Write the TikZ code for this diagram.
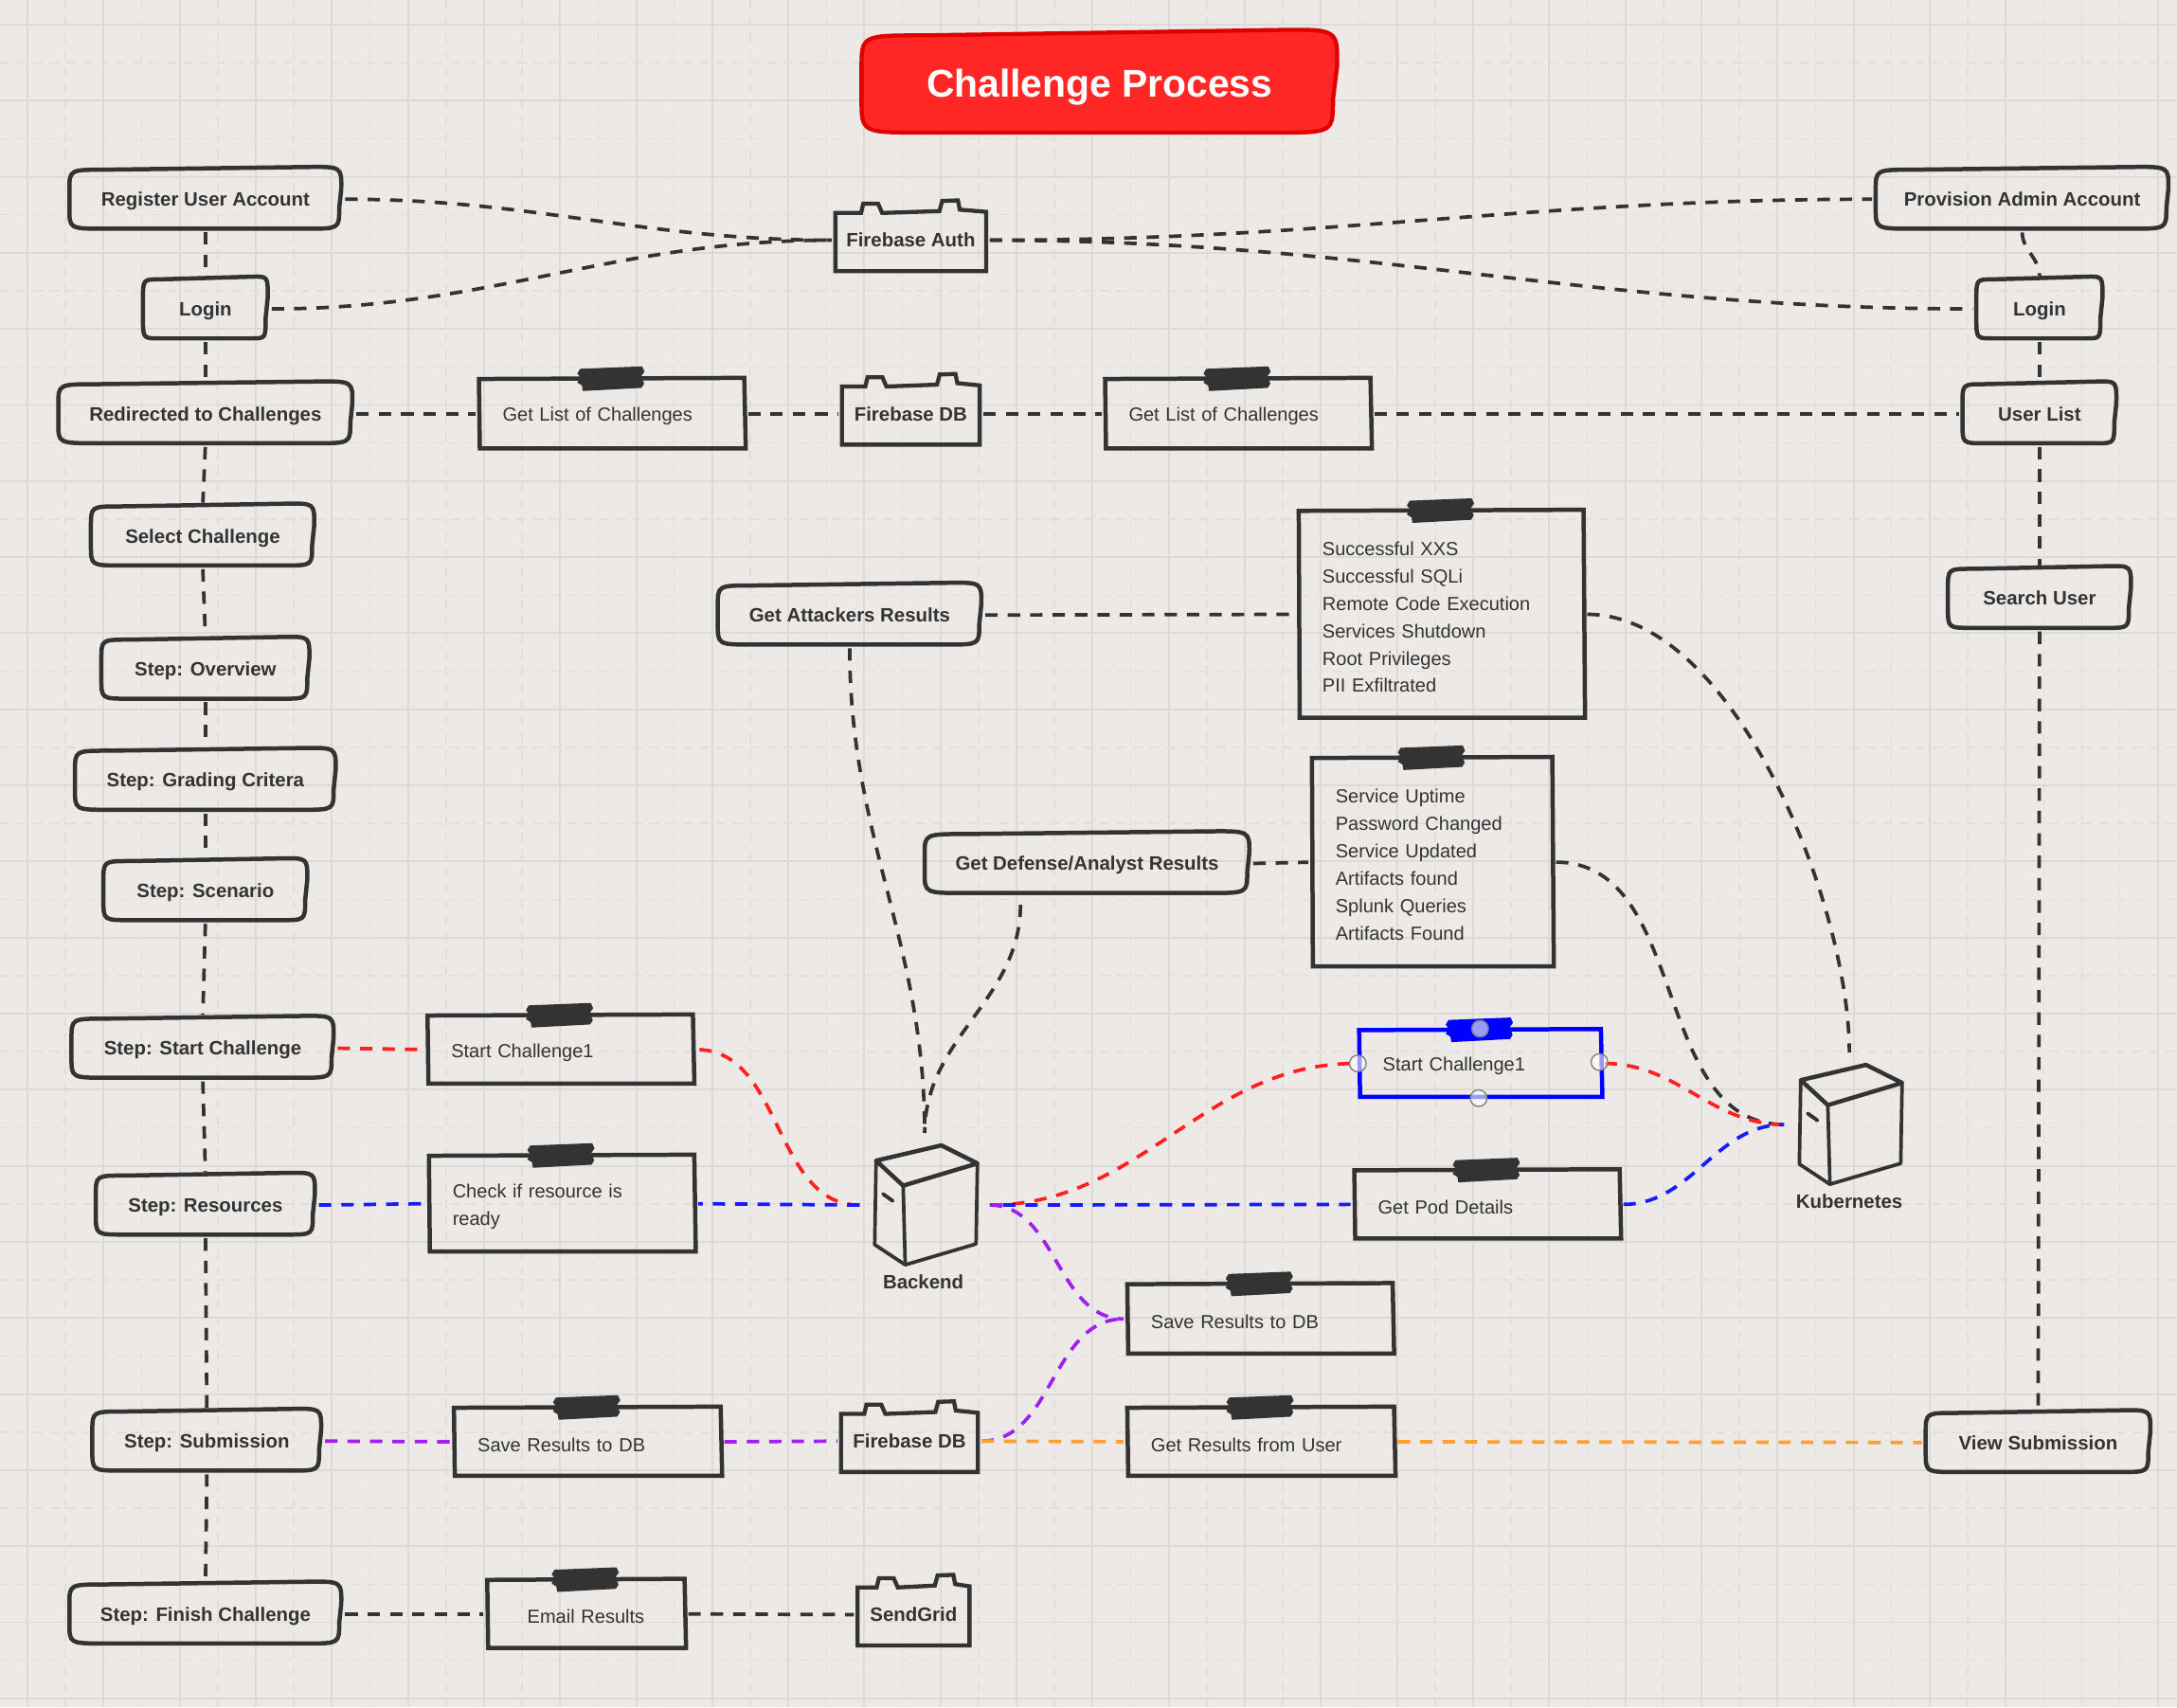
\documentclass[tikz,border=0pt]{standalone}
\usepackage{fontspec}
\setmainfont{Liberation Sans}
\usetikzlibrary{calc}
\definecolor{paper}{HTML}{ECE9E6}
\definecolor{gridline}{HTML}{DCDAD7}
\definecolor{ink}{HTML}{333333}
\definecolor{titlered}{HTML}{FF2626}
\definecolor{titleedge}{HTML}{E00000}
\definecolor{linkred}{HTML}{FF2020}
\definecolor{linkblue}{HTML}{1A1AFF}
\definecolor{boxblue}{HTML}{0000FF}
\definecolor{linkpurple}{HTML}{A020F0}
\definecolor{linkorange}{HTML}{FFA030}
\newcommand{\routineshape}[4]{%
  \draw[#4] ($(#1.north west)+(0pt,-#2)$)
    .. controls (#1.north west) .. ($(#1.north west)!.13!(#1.north east)$)
    -- ($(#1.north west)!.87!(#1.north east)+(0pt,.85*#3)$)
    .. controls ($(#1.north east)+(0pt,#3)$) .. ($(#1.north east)+(-.1*#3,-#2+.4*#3)$)
    -- ($(#1.south east)+(-.75*#3,#2)$)
    .. controls ($(#1.south east)+(-.75*#3,0pt)$) .. ($(#1.south west)!.87!(#1.south east)$)
    -- ($(#1.south west)!.13!(#1.south east)$)
    .. controls (#1.south west) .. ($(#1.south west)+(0pt,#2)$) -- cycle;}
\newcommand{\noteshape}[2]{%
  \draw[#2, line width=2.3pt, line join=miter] (#1.north west) -- ($(#1.north east)+(0pt,.6pt)$)
    -- ($(#1.south east)+(.8pt,0pt)$) -- ($(#1.south west)+(.5pt,0pt)$) -- cycle;
  \fill[#2, shift={(#1.north)}, x=1pt, y=1pt] (-17,5.5) -- (16.5,6.8) -- (17.8,4) -- (16,1.5) -- (17.6,-2.5)
    -- (16.2,-4.8) -- (-15.5,-6.5) -- (-16,-3.5) -- (-18.5,-2) -- (-17,1) -- (-18.5,3) -- cycle;}
\newcommand{\storeshape}[1]{%
  \draw[ink, line width=2.2pt, line join=miter] ($(#1.south west)+(0pt,-2pt)$) -- (#1.north west)
    -- ($(#1.north west)!.17!(#1.north east)$) -- ++(1.2pt,5pt) -- ++(8pt,0pt) -- ++(2.2pt,-5pt)
    -- ($(#1.north west)!.69!(#1.north east)+(0pt,1pt)$) -- ++(1.5pt,5.5pt) -- ++(8.5pt,.3pt) -- ++(1pt,-5pt)
    -- ($(#1.north east)+(0pt,.6pt)$) -- ($(#1.south east)+(0pt,-2pt)$) -- cycle;}
\newcommand{\servershape}[1]{%
  \begin{scope}[shift={(#1.center)}, ink, line join=round, line cap=round]
    \draw[line width=2.3pt] (-35,-32) -- (12,-43) -- (38,-30) -- (-15.5,-14) -- cycle;
    \draw[line width=1.9pt] (-35,-32) -- (-36,28.5) -- (-14,43) -- (37,28) -- (38,-30);
    \draw[line width=1.9pt] (-15.5,-14) -- (-14,43);
    \draw[line width=2pt] (-30,-8) -- (-23,-3);
  \end{scope}}
\tikzset{
  routine/.style = {font=\fontsize{10.45}{13}\selectfont\bfseries, text=ink, inner sep=0pt, minimum height=31.5pt,
    text height=7.5pt, text depth=0pt,
    append after command={\pgfextra{\routineshape{\tikzlastnode}{11pt}{1.7pt}{ink, line width=2.3pt}}}},
  wide/.style = {minimum width=(#1-2.5)*.75pt},
  tall/.style = {minimum height=(#1-2.5)*.75pt},
  note/.style = {font=\fontsize{10.25}{14.8}\selectfont, text=ink, inner ysep=0pt, inner xsep=12.6pt, align=left,
    execute at begin node={\rule{0pt}{10.5pt}},
    append after command={\pgfextra{\noteshape{\tikzlastnode}{#1}}}},
  note/.default = ink,
  notewide/.style = {text width=.75*(#1-36)*1pt},
  store/.style = {font=\fontsize{10.45}{13}\selectfont\bfseries, text=ink, inner sep=0pt, minimum height=29pt,
    text height=7.5pt, text depth=0pt,
    append after command={\pgfextra{\storeshape{\tikzlastnode}}}},
  server/.style = {inner sep=0pt, minimum width=66pt, minimum height=73.5pt,
    append after command={\pgfextra{\servershape{\tikzlastnode}}}},
  caption/.style = {font=\fontsize{10.45}{13}\selectfont\bfseries, text=ink, inner sep=0pt},
  handle/.style = {circle, draw=gray, line width=.7pt, fill=white, fill opacity=.6, inner sep=0pt, minimum size=9pt},
  link/.style = {draw=#1, line width=1.9pt, dash pattern=on 6.7pt off 5.4pt, shorten <=2pt, shorten >=2pt},
  link/.default = ink
}
\begin{document}
\begin{tikzpicture}[x=.75pt, y=-.75pt]
  \useasboundingbox[fill=paper] (0,0) rectangle (1568,1229.6);

  \foreach \k in {0,...,28} {
    \draw[gridline, line width=1pt] ({19.8+54.8*\k},0) -- ({19.8+54.8*\k},1229.6);
    \draw[gridline!70!paper, line width=.8pt, dash pattern=on 5pt off 4pt] ({47.2+54.8*\k},0) -- ({47.2+54.8*\k},1229.6);
  }
  \foreach \k in {0,...,22} {
    \draw[gridline, line width=1pt] (0,{17.7+54.8*\k}) -- (1568,{17.7+54.8*\k});
    \draw[gridline!70!paper, line width=.8pt, dash pattern=on 5pt off 4pt] (0,{45.1+54.8*\k}) -- (1568,{45.1+54.8*\k});
  }

  \node[wide=345, tall=72, inner sep=0pt, append after command={\pgfextra{\routineshape{\tikzlastnode}{18pt}{3.4pt}{draw=titleedge, fill=titlered, line width=2.2pt}}}] at (792,60.5) (titlebox) {};
  \node[font=\fontsize{20.9}{24}\selectfont\bfseries, text=white, inner sep=0pt] at (792,63) (title) {Challenge Process};

  \node[routine, wide=198] at (148,143.5) (register)  {Register User Account};
  \node[routine, wide=92]  at (148,222.5) (login)     {Login};
  \node[routine, wide=214] at (148,298)   (redirect)  {Redirected to Challenges};
  \node[routine, wide=163] at (146,386)   (select)    {Select Challenge};
  \node[routine, wide=152] at (148,482)   (overview)  {Step: Overview};
  \node[routine, wide=190] at (148,562)   (grading)   {Step: Grading Critera};
  \node[routine, wide=149] at (148,641.5) (scenario)  {Step: Scenario};
  \node[routine, wide=191] at (146,755)   (start)     {Step: Start Challenge};
  \node[routine, wide=160] at (148,868)   (resources) {Step: Resources};
  \node[routine, wide=167] at (149,1038)  (submit)    {Step: Submission};
  \node[routine, wide=198] at (148,1162.5) (finish)   {Step: Finish Challenge};

  \node[routine, wide=213] at (1456.5,143.5) (provision) {Provision Admin Account};
  \node[routine, wide=93]  at (1469,222.5)   (adminlog)  {Login};
  \node[routine, wide=113] at (1469,298)     (userlist)  {User List};
  \node[routine, wide=134] at (1469,431)     (search)    {Search User};
  \node[routine, wide=164] at (1468,1039)    (viewsub)   {View Submission};

  \node[routine, wide=192] at (612,443) (attackres)  {Get Attackers Results};
  \node[routine, wide=236] at (783,622) (defenseres) {Get Defense/Analyst Results};

  \node[store, minimum width=81pt] at (656,173)  (fbauth)   {Firebase Auth};
  \node[store, minimum width=74pt] at (656,298)  (fbdb)     {Firebase DB};
  \node[store, minimum width=73.5pt] at (655,1038) (fbdblow)  {Firebase DB};
  \node[store, minimum width=60pt] at (658,1163) (sendgrid) {SendGrid};

  \node[note, notewide=193, tall=52]  at (440.5,298) (listleft)  {Get List of Challenges};
  \node[note, notewide=193, tall=52]  at (891.5,298) (listright) {Get List of Challenges};
  \node[note, notewide=207, tall=151] at (1038,442.5) (attacklist) {Successful XXS\\Successful SQLi\\Remote Code Execution\\Services Shutdown\\Root Privileges\\PII Exfiltrated};
  \node[note, notewide=175, tall=152] at (1031.5,621) (defenselist) {Service Uptime\\Password Changed\\Service Updated\\Artifacts found\\Splunk Queries\\Artifacts Found};
  \node[note, notewide=193, tall=51]  at (403.5,756) (startnote) {Start Challenge1};
  \node[note, notewide=193, tall=71]  at (404.5,867) (checknote) {Check if resource is\\ready};
  \node[note=boxblue, notewide=176, tall=50] at (1066,766) (startblue) {Start Challenge1};
  \node[note, notewide=193, tall=51]  at (1071,867.5) (podnote)   {Get Pod Details};
  \node[note, notewide=193, tall=52]  at (907.5,950)  (saveup)    {Save Results to DB};
  \node[note, notewide=194, tall=51]  at (423,1038.5) (savelow)   {Save Results to DB};
  \node[note, notewide=194, tall=51]  at (908,1038.5) (getres)    {Get Results from User};
  \node[note, notewide=144, tall=51, align=center] at (422,1162.5) (email) {Email Results};

  \node[server] at (666,868) (backend) {};
  \node[caption] at (665,923) (backendname) {Backend};
  \node[server] at (1332,810) (kube) {};
  \node[caption] at (1332,865) (kubename) {Kubernetes};

  \coordinate (defensefoot) at (735,649);

  \draw[link] (register.south)  edge (login.north);
  \draw[link] (login.south)     edge (redirect.north);
  \draw[link] (redirect.south)  edge (select.north);
  \draw[link] (select.south)    edge (overview.north);
  \draw[link] (overview.south)  edge (grading.north);
  \draw[link] (grading.south)   edge (scenario.north);
  \draw[link] (scenario.south)  edge (start.north);
  \draw[link] (start.south)     edge (resources.north);
  \draw[link] (resources.south) edge (submit.north);
  \draw[link] (submit.south)    edge (finish.north);

  \draw[link] (provision.south) edge [out=-90, in=90] (adminlog.north);
  \draw[link] (adminlog.south)  edge (userlist.north);
  \draw[link] (userlist.south)  edge (search.north);
  \draw[link] (search.south)    edge (viewsub.north);

  \draw[link] (register.east) edge [out=0, in=180] (fbauth.west);
  \draw[link] (login.east)    edge [out=0, in=180] (fbauth.west);
  \draw[link] (fbauth.east)   edge [out=0, in=180] (provision.west);
  \draw[link] (fbauth.east)   edge [out=0, in=180] (adminlog.west);

  \draw[link] (redirect.east)  edge (listleft.west);
  \draw[link] (listleft.east)  edge (fbdb.west);
  \draw[link] (fbdb.east)      edge (listright.west);
  \draw[link] (listright.east) edge (userlist.west);

  \draw[link] (attackres.east)   edge (attacklist.west);
  \draw[link] (attacklist.east)  edge [out=0, in=90, looseness=.75] (kube.north);
  \draw[link] (attackres.south)  edge [out=-90, in=90] (backend.north);
  \draw[link] (defensefoot)      edge [out=-90, in=90] (backend.north);
  \draw[link] (defenseres.east)  edge (defenselist.west);
  \draw[link] (defenselist.east) edge [out=0, in=180] (kube.west);

  \draw[link=linkred] (start.east)   edge (startnote.west);
  \draw[link=linkred] (backend.west) edge [out=180, in=0] (startnote.east);
  \draw[link=linkred] (backend.east) edge [out=0, in=180] (startblue.west);
  \draw[link=linkred] (startblue.east) edge [out=0, in=180] (kube.west);

  \draw[link=linkblue] (resources.east) edge (checknote.west);
  \draw[link=linkblue] (backend.west)   edge (checknote.east);
  \draw[link=linkblue] (backend.east)   edge [dash phase=5pt] (podnote.west);
  \draw[link=linkblue] (podnote.east)   edge [out=0, in=180] (kube.west);

  \draw[link=linkpurple] (submit.east)  edge (savelow.west);
  \draw[link=linkpurple] (savelow.east) edge (fbdblow.west);
  \draw[link=linkpurple] (fbdblow.east) edge [out=0, in=180] (saveup.west);
  \draw[link=linkpurple] (backend.east) edge [out=0, in=180] (saveup.west);

  \draw[link=linkorange] (fbdblow.east) edge (getres.west);
  \draw[link=linkorange] (getres.east)  edge (viewsub.west);

  \draw[link] (finish.east) edge (email.west);
  \draw[link] (email.east)  edge (sendgrid.west);

  \node[handle] at (978,766)  (handleleft)   {};
  \node[handle] at (1152,765) (handleright)  {};
  \node[handle] at (1066,741) (handletop)    {};
  \node[handle] at (1065,791) (handlebottom) {};
\end{tikzpicture}
\end{document}
